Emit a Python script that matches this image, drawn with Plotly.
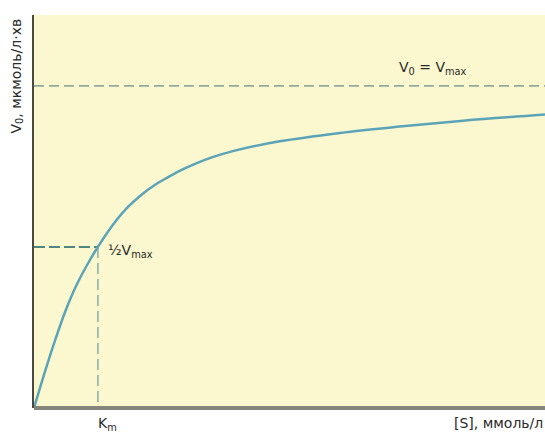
import plotly.graph_objects as go

# Substrate concentration [S] (arbitrary units, axis 0..10) and initial rate V0 (Vmax = 10)
s_values = [0.0, 0.18, 0.41, 0.61, 0.84, 1.10, 1.25, 1.39, 1.59, 1.84, 2.11, 2.37, 2.56,
            2.82, 3.15, 3.48, 3.93, 4.81, 5.99, 7.10, 8.40, 10.0]
v_values = [0.0, 0.95, 2.09, 2.99, 3.84, 4.61, 5.00, 5.34, 5.78, 6.24, 6.63, 6.93, 7.11,
            7.34, 7.58, 7.78, 7.99, 8.28, 8.54, 8.73, 8.92, 9.11]
v_max = 10.0
k_m = 1.25
x_range = [0, 10]
y_range = [0, 12.2]

FONT = "DejaVu Sans"
TXT = "#2a2a2a"
fig = go.Figure()

# Vmax dashed line
fig.add_trace(go.Scatter(x=x_range, y=[v_max, v_max], mode="lines",
                         line=dict(color="#93ab9c", width=1.6, dash="10px,5px"),
                         hoverinfo="skip", showlegend=False))
# half Vmax horizontal
fig.add_trace(go.Scatter(x=[0, k_m], y=[v_max / 2, v_max / 2], mode="lines",
                         line=dict(color="#4f8682", width=2, dash="11px,4px"),
                         hoverinfo="skip", showlegend=False))
# Km vertical
fig.add_trace(go.Scatter(x=[k_m, k_m], y=[v_max / 2, 0], mode="lines",
                         line=dict(color="#8fb0a6", width=1.6, dash="11px,5px"),
                         hoverinfo="skip", showlegend=False))
# Michaelis-Menten curve
fig.add_trace(go.Scatter(x=s_values, y=v_values, mode="lines",
                         line=dict(color="#5ba4b8", width=2.5, shape="spline", smoothing=1.0),
                         hoverinfo="skip", showlegend=False))

fig.update_layout(
    width=545, height=435,
    margin=dict(l=34, r=0, t=15, b=27),
    paper_bgcolor="white",
    plot_bgcolor="#fbf8cf",
    font=dict(family=FONT, color=TXT),
    xaxis=dict(range=x_range, showgrid=False, zeroline=False, showticklabels=False,
               ticks="", showline=False, fixedrange=True),
    yaxis=dict(range=y_range, showgrid=False, zeroline=False, showticklabels=False,
               ticks="", showline=True, linecolor="#4a4a40", linewidth=1.5,
               fixedrange=True),
    shapes=[dict(type="line", xref="paper", yref="paper", x0=0, x1=1, y0=0, y1=0,
                 line=dict(color="#85857a", width=4))],
    annotations=[
        dict(text="V<sub>0</sub> = V<sub>max</sub>", x=7.81, y=v_max, xref="x", yref="y",
             xanchor="center", yanchor="bottom", yshift=7, showarrow=False,
             font=dict(size=14, family=FONT, color=TXT)),
        dict(text="½V<sub>max</sub>", x=k_m, y=v_max / 2, xref="x", yref="y",
             xanchor="left", yanchor="middle", xshift=8, yshift=-4, showarrow=False,
             font=dict(size=14, family=FONT, color=TXT)),
        dict(text="K<sub>m</sub>", x=k_m, y=0, xref="x", yref="y",
             xanchor="left", yanchor="top", xshift=-2, yshift=-5, showarrow=False,
             font=dict(size=14, family=FONT, color=TXT)),
        dict(text="[S], ммоль/л", x=1, y=0, xref="paper", yref="paper",
             xanchor="right", yanchor="top", yshift=-5, showarrow=False,
             font=dict(size=14, family=FONT, color=TXT)),
        dict(text="V<sub>0</sub>, мкмоль/л·хв", x=0, y=1, xref="paper", yref="paper",
             xanchor="right", yanchor="top", xshift=-7, yshift=-2, textangle=-90,
             showarrow=False, font=dict(size=14, family=FONT, color=TXT)),
    ],
)

fig.write_html("out.html", config={"displayModeBar": False},
               post_script="document.body.style.margin='0';document.body.style.overflow='hidden';")
